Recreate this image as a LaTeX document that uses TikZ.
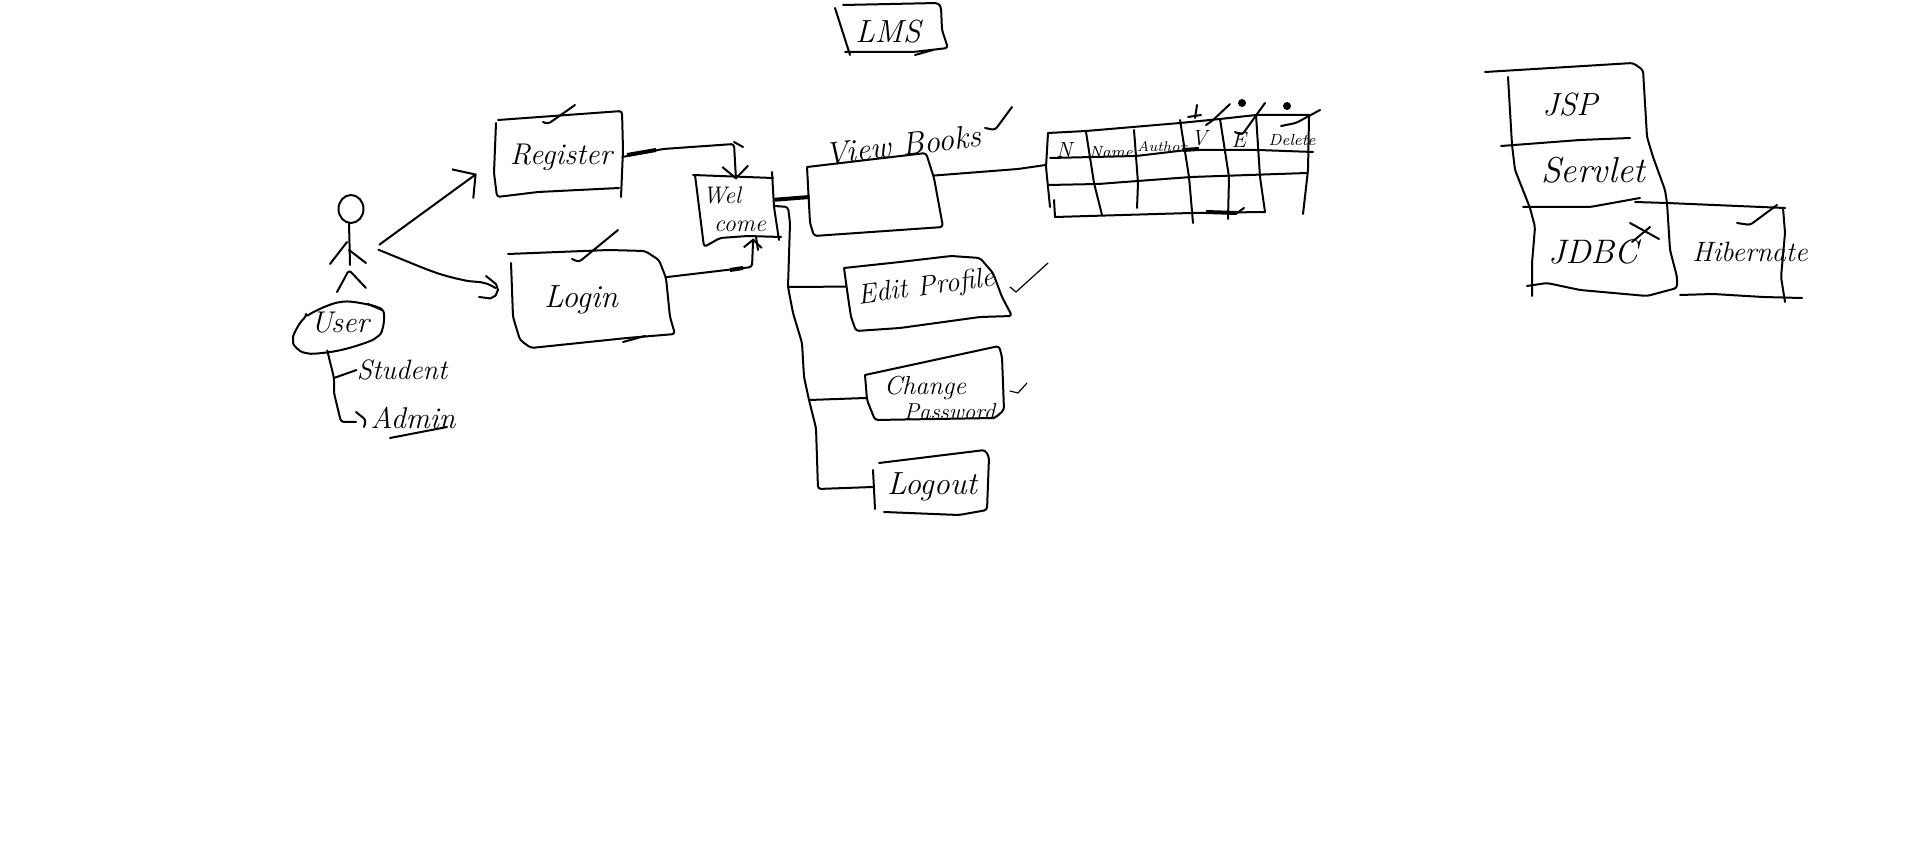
\documentclass[tikz,border=0pt]{standalone}
\usetikzlibrary{arrows.meta}
\begin{document}
\begin{tikzpicture}[x=0.5pt,y=-0.5pt,
  pen/.style={line width=1pt,line join=round,line cap=round,rounded corners=1.5pt},
  fine/.style={line width=0.6pt,line cap=round},
  hw/.style={inner sep=0pt,font=\itshape\fontsize{#1}{#1}\selectfont,align=center},
  arr/.style={pen,-{Straight Barb[length=6pt,width=13pt]}},
  arrsmall/.style={pen,-{Straight Barb[length=4pt,width=9pt]}}]
\useasboundingbox (0,0) rectangle (1914,865);

\node[hw=16] (lmstitle) at (888,32) {LMS};
\draw[pen] (835,8) -- (850,55);
\draw[pen] (843,5) -- (938,3) -- (941,7) -- (942,30) -- (948,48) -- (913,52) -- (845,52);
\draw[pen] (915,55) -- (933,50);

\node[minimum width=30pt,minimum height=20pt,inner sep=0pt] (actor) at (349,250) {};
\draw[pen] (351,209) ellipse (12.5 and 14);
\draw[pen] (349,223) -- (350,265);
\draw[pen] (330,264) -- (347,242);
\draw[pen] (349,250) -- (366,263);
\draw[pen] (337,292) -- (349,270) -- (366,288);

\node[hw=15,minimum width=45pt,minimum height=27pt] (user) at (340,323) {User};
\draw[pen] plot[smooth cycle] coordinates {(293,340) (306,317) (341,302) (377,307) (384,317) (377,337) (341,350) (306,353)};
\draw[pen] (368,304) -- (382,310);
\node[hw=14] (student) at (402,370) {Student};
\node[hw=15] (admin) at (413,418) {Admin};
\coordinate (tapstudent) at (334,378);
\draw[pen] (user.245) -- (tapstudent) -- (334,393) -- (341,422) -- (356,422);
\draw[pen] (356,412) -- (366,420) -- (364,427);
\draw[pen] (tapstudent) -- (student.west);
\draw[pen] (390,438) -- (447,427);

\node[hw=15,minimum width=61pt,minimum height=38pt] (register) at (561,157) {Register};
\draw[pen] (498,120) -- (622,111) -- (623,150) -- (621,197);
\draw[pen] (619,188) -- (538,192) -- (497,197) -- (494,173) -- (496,123);
\node[hw=16,minimum width=85pt,minimum height=45pt] (login) at (581,300) {Login};
\draw[pen] (508,254) -- (609,250) -- (645,251) -- (659,260) -- (666,278) -- (670,317) -- (675,334) -- (627,338) -- (531,348) -- (520,340) -- (513,317) -- (511,263);
\draw[pen] (623,342) -- (645,336);
\node[hw=12,minimum width=43pt,minimum height=29pt] (welcome) at (731,209) {Wel\hspace*{0.75em}\\[2pt]\hspace*{0.75em}come};
\draw[pen] (693,175) -- (773,178);
\draw[pen] (695,175) -- (704,247) -- (720,238) -- (748,236) -- (781,237);
\draw[pen] (772,172) -- (774,207) -- (779,240);

\draw[pen,shorten >=14.2pt,-{Straight Barb[length=8pt,width=18pt]}] (actor.10) -- (register.west);
\draw[pen] plot[smooth] coordinates {(actor.east) (384,252) (434,272) (463,280) (484,283) (login.172)};
\draw[pen] plot[smooth] coordinates {(486,276) (497,287) (493,297) (479,297)};
\draw[arr] (register.east) -- (663,149) -- (734,144) -- (welcome.north -| 736,0);
\draw[line width=2pt] (627,155) -- (656,150);
\draw[arrsmall] (login.15) -- (752,267) -- (welcome.-53);
\draw[line width=2pt] (730,270) -- (743,268);
\draw[pen] (756,237) -- (758,250);
\draw[pen] (734,142) -- (743,147);

\node[minimum width=62pt,minimum height=35pt,inner sep=0pt] (viewbox) at (872,197) {};
\draw[pen] (807,167) -- (926,153) -- (934,178) -- (943,227) -- (814,236) -- (810,223) -- (807,167);
\node[hw=16,rotate=7] (viewlabel) at (903,145) {View Books};
\draw[line width=2pt] (welcome.12) -- (viewbox.west);

\node[minimum width=129pt,minimum height=50pt,inner sep=0pt] (booktable) at (1175,165) {};
\draw[pen] (viewbox.19) -- (1018,169) -- (booktable.west);
\draw[pen] (1048,133) -- (1086,131) -- (1180,123) -- (1220,119) -- (1256,115) -- (1309,115);
\draw[pen] (1050,158) -- (1136,156) -- (1187,150) -- (1258,150) -- (1313,152);
\draw[pen] (1048,185) -- (1098,184) -- (1191,177) -- (1307,173);
\draw[pen] (1055,217) -- (1191,213) -- (1265,212);
\draw[pen] (1048,133) -- (1046,167) -- (1050,207);
\draw[pen] (1054,200) -- (1055,217);
\foreach \xa/\ya/\xb/\yb/\xc/\yc in {1086/132/1094/183/1102/215,1134/130/1138/183/1137/208,1180/120/1189/177/1193/223,1220/119/1229/177/1228/219,1256/115/1260/177/1265/212,1309/117/1308/170/1303/214}
  \draw[pen] (\xa,\ya) -- (\xb,\yb) -- (\xc,\yc);
\node[hw=11] (colN) at (1064,150) {N};
\node[hw=8] (colName) at (1111,152) {Name};
\node[hw=7] (colAuthor) at (1162,147) {Author};
\node[hw=11] (colV) at (1199,138) {V};
\node[hw=11] (colE) at (1239,140) {E};
\node[hw=8] (colDelete) at (1292,140) {Delete};
\draw[pen] (1188,117) -- (1201,115);
\draw[pen] (1197,105) -- (1195,118);
\fill (1242,103) circle (4);
\fill (1287,106) circle (4);
\draw[line width=2pt] (1183,150) -- (1199,149);
\draw[line width=2pt] (1206,212) -- (1237,213);
\draw[pen] (1237,213) -- (1244,208);

\node[hw=14,rotate=8,minimum width=79pt,minimum height=25pt] (editprofile) at (926,288) {Edit Profile};
\draw[pen] (844,268) -- (900,262) -- (951,256) -- (980,258) -- (993,273) -- (1002,297) -- (1012,316) -- (980,317) -- (900,328) -- (856,331) -- (851,317) -- (848,297) -- (844,268);
\node[hw=11.5,minimum width=72pt,minimum height=26pt] (changepw) at (938,398) {\fontsize{13}{13}\selectfont Change\hspace*{1em}\\[1pt]\hspace*{1em}Password};
\draw[pen] (865,375) -- (999,346) -- (1002,357) -- (1004,410) -- (995,418) -- (875,420) -- (867,400) -- (865,375);
\node[hw=16,minimum width=59pt,minimum height=30pt] (logout) at (932,487) {Logout};
\draw[pen] (879,463) -- (985,450) -- (989,457) -- (987,510) -- (959,515) -- (884,512);
\draw[pen] (873,470) -- (875,509);

\coordinate (tapedit) at (788,287);
\coordinate (tapchange) at (809,400);
\draw[pen] (welcome.4) -- (788,207) -- (790,223) -- (tapedit) -- (793,313) -- (802,343) -- (804,377) -- (tapchange) -- (816,428) -- (818,489) -- (logout.west);
\draw[pen] (tapedit) -- (editprofile.171);
\draw[pen] (tapchange) -- (changepw.west);

\foreach \xa/\ya/\xb/\yb/\xc/\yc in {543/122/548/124/575/105,572/259/579/262/618/230,985/128/995/130/1012/107,1206/125/1212/121/1230/104,1235/132/1242/135/1265/103,1281/126/1296/123/1320/110,1737/223/1750/225/1777/205}
  \draw[pen] (\xa,\ya) -- (\xb,\yb) -- (\xc,\yc);
\foreach \xa/\ya/\xb/\yb/\xc/\yc in {1010/287/1016/292/1048/263,1010/391/1018/393/1027/383}
  \draw[fine] (\xa,\ya) -- (\xb,\yb) -- (\xc,\yc);

\node[hw=16] (jsp) at (1570,105) {JSP};
\node[hw=18] (servlet) at (1593,170) {Servlet};
\node[hw=17] (jdbc) at (1593,252) {JDBC};
\node[hw=14] (hibernate) at (1750,252) {Hibernate};
\draw[pen] (1485,72) -- (1633,63) -- (1643,70) -- (1647,137) -- (1653,157) -- (1665,190) -- (1667,203);
\draw[pen] (1508,77) -- (1512,145) -- (1515,170) -- (1530,208) -- (1535,227) -- (1532,263) -- (1532,296);
\draw[pen] (1501,146) -- (1580,140) -- (1630,138);
\draw[pen] (1523,207) -- (1590,207) -- (1640,198);
\draw[pen] (1635,202) -- (1667,203) -- (1785,208);
\draw[pen] (1667,203) -- (1670,250) -- (1677,277) -- (1677,288) -- (1647,296) -- (1580,290) -- (1547,283) -- (1527,286);
\draw[pen] (1680,295) -- (1713,294) -- (1763,297) -- (1802,298);
\draw[pen] (1783,208) -- (1785,233) -- (1781,277) -- (1785,302);
\draw[pen] (1630,223) -- (1659,239);
\draw[pen] (1632,242) -- (1650,227);
\end{tikzpicture}
\end{document}
